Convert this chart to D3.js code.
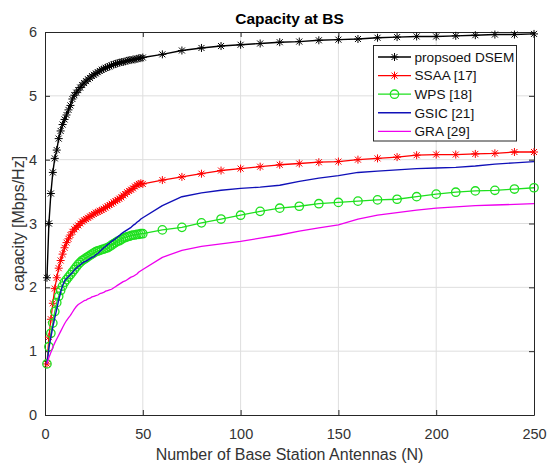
<!DOCTYPE html>
<html>
<head>
<meta charset="utf-8">
<script src="https://cdn.jsdelivr.net/npm/d3@7"></script>
<style>
  html, body { margin: 0; padding: 0; background: #fff; }
  svg { display: block; font-family: "Liberation Sans", Arial, Helvetica, sans-serif; }
</style>
</head>
<body>
<svg id="chart" width="547" height="464"></svg>
<script>
// ---- data ----
const antennas = [1,2,3,4,5,6,7,8,9,10,11,12,13,14,15,16,17,18,19,20,21,22,23,24,25,26,27,28,29,30,
  31,32,33,34,35,36,37,38,39,40,41,42,43,44,45,46,47,48,49,50,
  60,70,80,90,100,110,120,130,140,150,160,170,180,190,200,210,220,230,240,250];

const dsem = [2.15,3.00,3.47,3.80,4.02,4.15,4.33,4.45,4.55,4.63,
  4.70,4.78,4.85,4.95,5.01,5.05,5.09,5.13,5.17,5.20,
  5.23,5.26,5.28,5.31,5.33,5.35,5.37,5.39,5.41,5.42,
  5.44,5.45,5.46,5.48,5.49,5.50,5.51,5.52,5.53,5.53,
  5.54,5.55,5.56,5.56,5.57,5.57,5.58,5.59,5.59,5.60,
  5.65,5.71,5.75,5.78,5.80,5.82,5.84,5.85,5.87,5.88,5.89,5.91,5.92,5.93,5.93,5.94,5.95,5.96,5.96,5.97];

const ssaa = [0.80,1.22,1.50,1.75,1.98,2.15,2.30,2.42,2.52,2.62,
  2.70,2.76,2.82,2.87,2.91,2.94,2.97,3.00,3.03,3.05,
  3.07,3.09,3.11,3.13,3.15,3.17,3.18,3.20,3.21,3.23,
  3.25,3.27,3.29,3.31,3.33,3.35,3.37,3.39,3.41,3.44,
  3.46,3.49,3.51,3.53,3.55,3.58,3.60,3.62,3.63,3.62,
  3.68,3.73,3.78,3.83,3.86,3.89,3.92,3.94,3.96,3.97,4.00,4.02,4.04,4.07,4.08,4.08,4.09,4.10,4.12,4.12];

const wps = [0.80,1.07,1.28,1.44,1.62,1.76,1.86,1.95,2.02,2.08,
  2.12,2.16,2.20,2.24,2.28,2.32,2.36,2.39,2.42,2.44,
  2.46,2.48,2.50,2.52,2.54,2.56,2.57,2.58,2.59,2.60,
  2.61,2.62,2.64,2.66,2.68,2.70,2.72,2.73,2.75,2.77,
  2.78,2.79,2.80,2.81,2.82,2.82,2.83,2.83,2.84,2.84,
  2.90,2.94,3.01,3.07,3.13,3.19,3.24,3.27,3.31,3.33,3.35,3.37,3.38,3.42,3.46,3.49,3.51,3.52,3.54,3.56];

const gsic = [0.80,1.05,1.22,1.38,1.52,1.66,1.80,1.92,2.03,2.10,
  2.14,2.17,2.20,2.23,2.27,2.30,2.33,2.35,2.38,2.40,
  2.41,2.43,2.45,2.47,2.48,2.51,2.53,2.56,2.59,2.62,
  2.64,2.67,2.69,2.72,2.74,2.76,2.79,2.81,2.84,2.86,
  2.88,2.90,2.92,2.94,2.97,2.99,3.02,3.04,3.07,3.09,
  3.28,3.42,3.48,3.52,3.55,3.57,3.60,3.66,3.71,3.75,3.80,3.82,3.84,3.86,3.87,3.88,3.90,3.93,3.95,3.97];

const gra = [0.80,0.90,0.98,1.06,1.13,1.19,1.25,1.31,1.37,1.43,
  1.48,1.52,1.56,1.61,1.66,1.70,1.73,1.75,1.77,1.79,
  1.80,1.82,1.83,1.85,1.86,1.87,1.88,1.90,1.91,1.92,
  1.94,1.95,1.96,1.97,1.99,2.01,2.03,2.05,2.07,2.09,
  2.10,2.12,2.14,2.16,2.17,2.19,2.21,2.24,2.26,2.28,
  2.47,2.58,2.64,2.68,2.72,2.77,2.82,2.88,2.93,2.98,3.07,3.13,3.17,3.21,3.24,3.26,3.28,3.29,3.30,3.31];

const seriesNames = ["propsoed DSEM", "SSAA [17]", "WPS [18]", "GSIC [21]", "GRA [29]"];
const xTicks = [0, 50, 100, 150, 200, 250];
const yTicks = [0, 1, 2, 3, 4, 5, 6];
const titleText = "Capacity at BS";
const xLabel = "Number of Base Station Antennas (N)";
const yLabel = "capacity [Mbps/Hz]";

// ---- styling ----
const series = [
  { name: seriesNames[0], values: dsem, color: "#000000", marker: "star", width: 1.4 },
  { name: seriesNames[1], values: ssaa, color: "#ff0000", marker: "star", width: 1.3 },
  { name: seriesNames[2], values: wps,  color: "#1ee01e", marker: "circle", width: 1.3 },
  { name: seriesNames[3], values: gsic, color: "#1010b8", marker: null, width: 1.4 },
  { name: seriesNames[4], values: gra,  color: "#ee00ee", marker: null, width: 1.3 }
];

const L = 45, R = 534, T = 32, B = 415;
const svg = d3.select("#chart");
const x = d3.scaleLinear().domain([0, 250]).range([L, R]);
const y = d3.scaleLinear().domain([0, 6]).range([B, T]);
const axisColor = "#262626";

// grid
const grid = svg.append("g");
grid.selectAll("line.gx").data(xTicks.slice(1, -1)).join("line")
  .attr("x1", d => x(d)).attr("x2", d => x(d)).attr("y1", T).attr("y2", B)
  .attr("stroke", "#dedede").attr("stroke-width", 1);
grid.selectAll("line.gy").data(yTicks.slice(1, -1)).join("line")
  .attr("y1", d => y(d)).attr("y2", d => y(d)).attr("x1", L).attr("x2", R)
  .attr("stroke", "#dedede").attr("stroke-width", 1);

// axes
function styleAxis(g) {
  g.selectAll("path.domain").attr("stroke", axisColor).attr("stroke-width", 1);
  g.selectAll(".tick line").attr("stroke", axisColor).attr("stroke-width", 1);
  g.selectAll(".tick text").attr("fill", "#333").attr("font-size", 14.5)
    .attr("font-family", "'Liberation Sans', Arial, sans-serif");
}
const fmt = d3.format("d");
svg.append("g").attr("transform", `translate(0,${B})`)
  .call(d3.axisBottom(x).tickValues(xTicks).tickFormat(fmt).tickSizeInner(-5).tickSizeOuter(0).tickPadding(14))
  .call(styleAxis);
svg.append("g").attr("transform", `translate(${L},0)`)
  .call(d3.axisLeft(y).tickValues(yTicks).tickFormat(fmt).tickSizeInner(-5).tickSizeOuter(0).tickPadding(8))
  .call(styleAxis);
svg.append("g").attr("transform", `translate(0,${T})`)
  .call(d3.axisTop(x).tickValues(xTicks).tickSizeInner(-5).tickSizeOuter(0).tickFormat(""))
  .call(styleAxis);
svg.append("g").attr("transform", `translate(${R},0)`)
  .call(d3.axisRight(y).tickValues(yTicks).tickSizeInner(-5).tickSizeOuter(0).tickFormat(""))
  .call(styleAxis);

// marker drawing
function drawMarker(g, type, cx, cy, color) {
  if (type === "star") {
    const s = 4, d = 3;
    const p = `M${cx - s},${cy}L${cx + s},${cy}M${cx},${cy - s}L${cx},${cy + s}` +
      `M${cx - d},${cy - d}L${cx + d},${cy + d}M${cx - d},${cy + d}L${cx + d},${cy - d}`;
    g.append("path").attr("d", p).attr("stroke", color).attr("stroke-width", 1).attr("fill", "none");
  } else if (type === "circle") {
    g.append("circle").attr("cx", cx).attr("cy", cy).attr("r", 4.2)
      .attr("stroke", color).attr("stroke-width", 1.3).attr("fill", "none");
  }
}

// lines
const line = d3.line().x(d => x(d[0])).y(d => y(d[1]));
const plot = svg.append("g");
series.forEach(s => {
  const pts = antennas.map((a, i) => [a, s.values[i]]);
  plot.append("path").attr("d", line(pts)).attr("fill", "none")
    .attr("stroke", s.color).attr("stroke-width", s.width).attr("stroke-linejoin", "round");
  if (s.marker) {
    const mg = plot.append("g");
    pts.forEach(p => drawMarker(mg, s.marker, x(p[0]), y(p[1]), s.color));
  }
});

// legend
const lg = svg.append("g");
lg.append("rect").attr("x", 373.5).attr("y", 45.5).attr("width", 143).attr("height", 95.5)
  .attr("fill", "#fff").attr("stroke", axisColor).attr("stroke-width", 1);
series.forEach((s, i) => {
  const cy = 57 + i * 18.6;
  lg.append("line").attr("x1", 378).attr("x2", 411).attr("y1", cy).attr("y2", cy)
    .attr("stroke", s.color).attr("stroke-width", s.width);
  if (s.marker) drawMarker(lg, s.marker, 394.5, cy, s.color);
  lg.append("text").attr("x", 414.5).attr("y", cy).attr("dy", "0.35em")
    .attr("font-size", 13.6).attr("fill", "#111").text(s.name);
});

// title and labels
svg.append("text").attr("x", (L + R) / 2).attr("y", 24).attr("text-anchor", "middle")
  .attr("font-size", 15.5).attr("font-weight", "bold").attr("fill", "#000").text(titleText);
svg.append("text").attr("x", (L + R) / 2).attr("y", 460).attr("text-anchor", "middle")
  .attr("font-size", 16).attr("fill", "#333").text(xLabel);
svg.append("text").attr("transform", `translate(24,${(T + B) / 2}) rotate(-90)`)
  .attr("text-anchor", "middle").attr("font-size", 16).attr("fill", "#333").text(yLabel);
</script>
</body>
</html>
